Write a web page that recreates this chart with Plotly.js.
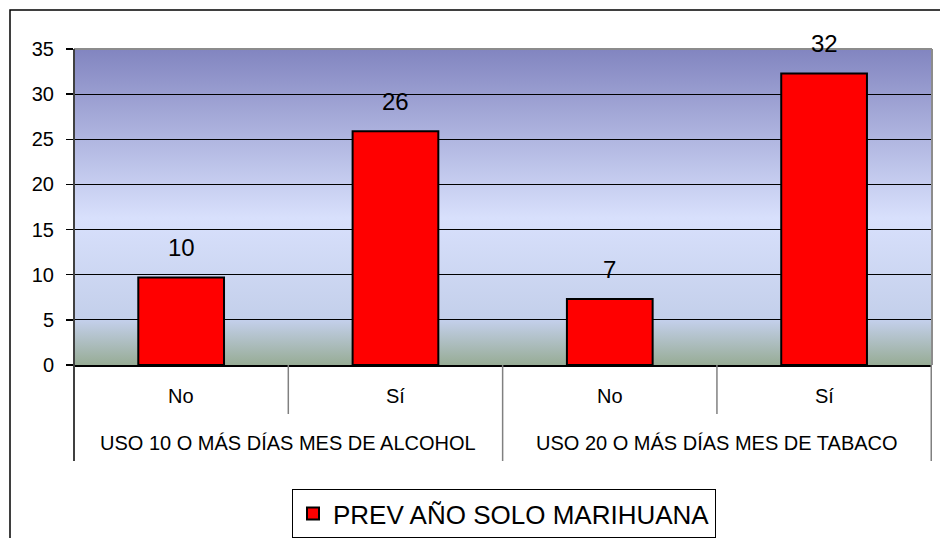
<!DOCTYPE html>
<html>
<head>
<meta charset="utf-8">
<script src="https://cdn.plot.ly/plotly-3.0.1.min.js"></script>
<style>html,body{margin:0;padding:0;background:#fff;}#chart{width:940px;height:538px;}</style>
</head>
<body>
<div id="chart"></div>
<script>
// ---- data ----
const groups = ['USO 10 O MÁS DÍAS MES DE ALCOHOL', 'USO 10 O MÁS DÍAS MES DE ALCOHOL', 'USO 20 O MÁS DÍAS MES DE TABACO', 'USO 20 O MÁS DÍAS MES DE TABACO'];
const subs = ['No', 'Sí', 'No', 'Sí'];
const values = [9.7, 25.9, 7.3, 32.3];
const valueLabels = ['10', '26', '7', '32'];
const seriesName = 'PREV AÑO SOLO MARIHUANA';
const yTicks = [0, 5, 10, 15, 20, 25, 30, 35];

// ---- geometry helpers (pixel -> paper) ----
const W = 940, H = 538;
const M = {l: 74, r: 8, t: 49, b: 173, autoexpand: false};
const PW = W - M.l - M.r, PH = H - M.t - M.b;
const px = x => (x - M.l) / PW;
const py = y => (H - M.b - y) / PH;

const keys = groups.map((g, i) => g + '|' + subs[i]);
const FONT = 'Liberation Sans, Arial, sans-serif';

// gradient background as svg image
const grad = "<svg xmlns='http://www.w3.org/2000/svg' width='100' height='100' preserveAspectRatio='none'>" +
  "<defs><linearGradient id='g' x1='0' y1='0' x2='0' y2='1'>" +
  "<stop offset='0' stop-color='#8285C0'/>" +
  "<stop offset='0.535' stop-color='#D8E0FC'/>" +
  "<stop offset='0.86' stop-color='#C3CFEA'/>" +
  "<stop offset='1' stop-color='#97AC95'/>" +
  "</linearGradient></defs><rect width='100' height='100' fill='url(#g)'/></svg>";
const gradURI = 'data:image/svg+xml;charset=utf-8,' + encodeURIComponent(grad);

const shapes = [];
// outer chart border
shapes.push({type: 'rect', xref: 'paper', yref: 'paper', x0: px(10), x1: px(1000), y0: py(600), y1: py(10),
  line: {color: '#000', width: 1.5}, fillcolor: 'rgba(0,0,0,0)', layer: 'above'});
// plot top + right border (gray)
shapes.push({type: 'line', xref: 'paper', yref: 'paper', x0: 0, x1: 1, y0: 1, y1: 1, line: {color: '#8c8c8c', width: 2}});
shapes.push({type: 'line', xref: 'paper', yref: 'paper', x0: 1, x1: 1, y0: 0, y1: 1, line: {color: '#8c8c8c', width: 2}});
// category dividers
const nCat = keys.length;
for (let i = 1; i <= nCat; i++) {
  const isGroupEdge = (i === nCat || groups[i] !== groups[i - 1]);
  shapes.push({type: 'line', xref: 'x', yref: 'paper', x0: i - 0.5, x1: i - 0.5,
    y0: 0, y1: isGroupEdge ? py(461) : py(414), line: {color: '#808080', width: 1.5}});
}
// y axis line extended down through category labels
shapes.push({type: 'line', xref: 'paper', yref: 'paper', x0: 0, x1: 0, y0: 1, y1: py(461), line: {color: '#404040', width: 2}});

const annotations = [];
// data labels and sub-category labels
keys.forEach((k, i) => {
  annotations.push({x: k, y: values[i], xref: 'x', yref: 'y', text: valueLabels[i], showarrow: false,
    yanchor: 'middle', yshift: 30, font: {family: FONT, size: 24, color: '#000'}});
  annotations.push({x: k, y: py(396), xref: 'x', yref: 'paper', text: subs[i], showarrow: false,
    yanchor: 'middle', font: {family: FONT, size: 20, color: '#000'}});
});
// group labels
const uniqueGroups = [...new Set(groups)];
uniqueGroups.forEach(g => {
  const idx = groups.map((v, i) => v === g ? i : -1).filter(i => i >= 0);
  const center = (idx[0] + idx[idx.length - 1]) / 2;
  annotations.push({x: center, y: py(443), xref: 'x', yref: 'paper', text: g, showarrow: false,
    yanchor: 'middle', font: {family: FONT, size: 20, color: '#000'}});
});

const trace = {
  type: 'bar', x: keys, y: values, name: seriesName,
  marker: {color: '#FF0000', line: {color: '#000', width: 2}},
  hoverinfo: 'skip'
};

const layout = {
  width: W, height: H,
  margin: M,
  paper_bgcolor: '#fff', plot_bgcolor: 'rgba(0,0,0,0)',
  font: {family: FONT, color: '#000'},
  bargap: 0.6,
  showlegend: true,
  legend: {orientation: 'h', x: px(292), xanchor: 'left', y: py(489), yanchor: 'top',
    bordercolor: '#000', borderwidth: 1, bgcolor: '#fff', font: {family: FONT, size: 26, color: '#000'}},
  xaxis: {type: 'category', categoryorder: 'array', categoryarray: keys, showticklabels: false, ticks: '',
    showgrid: false, zeroline: false, showline: true, linecolor: '#000', linewidth: 1.5, fixedrange: true},
  yaxis: {range: [0, 35], tickvals: yTicks, ticks: 'outside', ticklen: 7, tickcolor: '#000', tickwidth: 1.5,
    showgrid: true, gridcolor: '#000', gridwidth: 1, zeroline: false, showline: false,
    ticklabelstandoff: 8, tickfont: {family: FONT, size: 20, color: '#000'}, fixedrange: true},
  images: [{source: gradURI, xref: 'paper', yref: 'paper', x: 0, y: 1, sizex: 1, sizey: 1,
    xanchor: 'left', yanchor: 'top', sizing: 'stretch', layer: 'below'}],
  shapes: shapes,
  annotations: annotations
};

Plotly.newPlot('chart', [trace], layout, {staticPlot: true, displayModeBar: false});
</script>
</body>
</html>
